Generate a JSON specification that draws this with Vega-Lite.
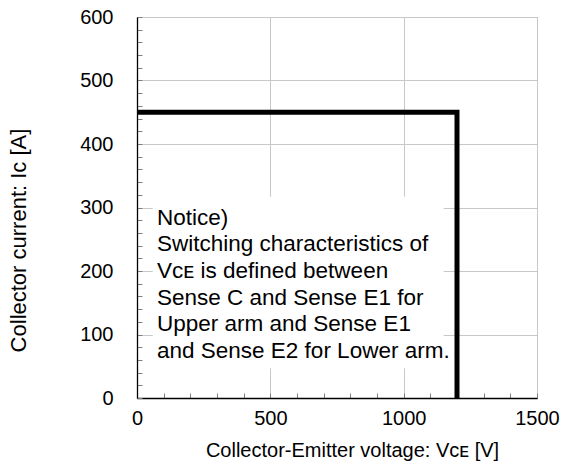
{
  "$schema": "https://vega.github.io/schema/vega-lite/v6.json",
  "width": 400,
  "height": 381,
  "autosize": {"type": "none"},
  "padding": {"left": 137, "top": 17, "right": 31, "bottom": 64},
  "background": "white",
  "config": {
    "view": {"stroke": "#808080", "strokeWidth": 1},
    "font": "Liberation Sans",
    "axis": {
      "labelFont": "Liberation Sans",
      "titleFont": "Liberation Sans",
      "labelColor": "black",
      "titleColor": "black",
      "titleFontWeight": "normal",
      "domainColor": "black",
      "domainWidth": 1.3,
      "tickColor": "#808080",
      "tickSize": -5,
      "gridColor": "#c8c8c8",
      "gridWidth": 1,
      "labelOverlap": false,
      "labelBound": false
    }
  },
  "datasets": {
    "box": [{"x": 59, "x2": 1150, "y": 47, "y2": 317}],
    "soa": [
      {"x": 0, "y": 450, "order": 1},
      {"x": 1200, "y": 450, "order": 2},
      {"x": 1200, "y": 0, "order": 3}
    ],
    "notice": [
      {"x": 75, "y": 273, "text": "Notice)"},
      {"x": 75, "y": 231, "text": "Switching characteristics of"},
      {"x": 75, "y": 189, "text": "Vᴄᴇ is defined between"},
      {"x": 75, "y": 147, "text": "Sense C and Sense E1 for"},
      {"x": 75, "y": 105, "text": "Upper arm and Sense E1"},
      {"x": 75, "y": 63, "text": "and Sense E2 for Lower arm."}
    ]
  },
  "layer": [
    {
      "data": {"name": "box"},
      "mark": {"type": "rect", "fill": "white", "stroke": null},
      "encoding": {
        "x": {
          "field": "x", "type": "quantitative",
          "scale": {"domain": [0, 1500], "nice": false, "zero": false},
          "axis": {
            "title": "Collector-Emitter voltage: Vᴄᴇ [V]",
            "values": [0,100,200,300,400,500,600,700,800,900,1000,1100,1200,1300,1400,1500],
            "tickCount": 100,
            "format": "d",
            "labelExpr": "datum.value % 500 === 0 ? datum.label : ''",
            "gridOpacity": {"condition": {"test": "datum.value % 500 === 0", "value": 1}, "value": 0},
            "labelFontSize": 20,
            "labelPadding": 15,
            "labelFlush": false,
            "titleFontSize": 20,
            "titlePadding": 12,
            "titleX": 215
          }
        },
        "x2": {"field": "x2"},
        "y": {
          "field": "y", "type": "quantitative",
          "scale": {"domain": [0, 600], "nice": false, "zero": false},
          "axis": {
            "title": "Collector current: Ic [A]",
            "values": [0,20,40,60,80,100,120,140,160,180,200,220,240,260,280,300,320,340,360,380,400,420,440,460,480,500,520,540,560,580,600],
            "tickCount": 100,
            "format": "d",
            "labelExpr": "datum.value % 100 === 0 ? datum.label : ''",
            "gridOpacity": {"condition": {"test": "datum.value % 100 === 0", "value": 1}, "value": 0},
            "labelFontSize": 20,
            "labelPadding": 29,
            "labelFlush": false,
            "titleFontSize": 22,
            "titlePadding": 49,
            "titleY": 223
          }
        },
        "y2": {"field": "y2"}
      }
    },
    {
      "data": {"name": "soa"},
      "mark": {"type": "line", "color": "black", "strokeWidth": 5, "strokeJoin": "miter", "strokeCap": "butt"},
      "encoding": {
        "x": {"field": "x", "type": "quantitative"},
        "y": {"field": "y", "type": "quantitative"},
        "order": {"field": "order", "type": "quantitative"}
      }
    },
    {
      "data": {"name": "notice"},
      "mark": {"type": "text", "align": "left", "baseline": "alphabetic", "fontSize": 22.5, "font": "Liberation Sans", "color": "black"},
      "encoding": {
        "x": {"field": "x", "type": "quantitative"},
        "y": {"field": "y", "type": "quantitative"},
        "text": {"field": "text"}
      }
    }
  ]
}
